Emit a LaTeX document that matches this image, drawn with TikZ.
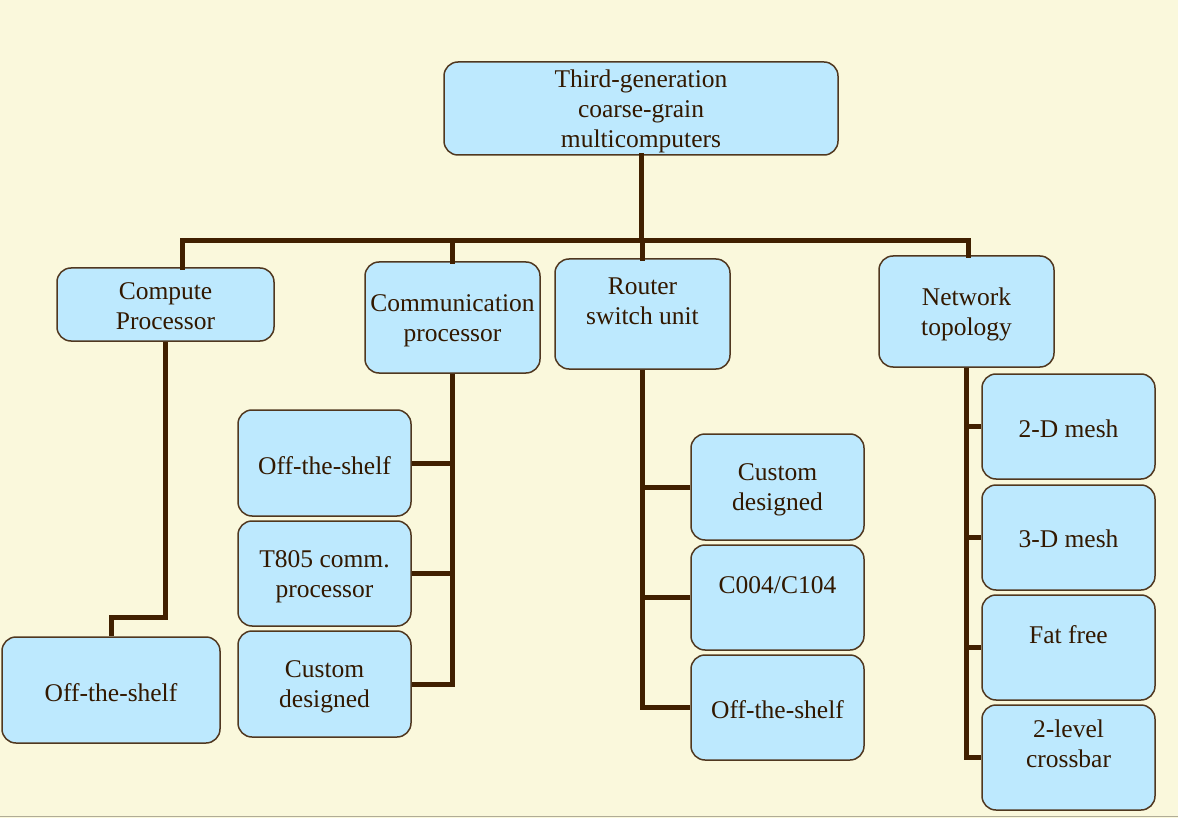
\documentclass[tikz,border=0pt]{standalone}
\usepackage{fontspec}
\setmainfont{Liberation Serif}
\definecolor{bgc}{RGB}{250,248,220}
\definecolor{boxfill}{RGB}{189,233,254}
\definecolor{boxline}{RGB}{80,56,32}
\definecolor{txtc}{RGB}{50,24,0}
\definecolor{connc}{RGB}{64,32,0}
\definecolor{edgec}{RGB}{176,172,150}
\begin{document}
\begin{tikzpicture}[x=1pt,y=-1pt,
  box/.style={draw=boxline,line width=1.5pt,fill=boxfill,rounded corners=14pt,inner sep=0pt},
  txt/.style={inner sep=0pt,align=center,text=txtc,font=\fontsize{25.5}{30}\selectfont},
  conn/.style={draw=connc,line width=5pt,line join=miter,line cap=rect}]
\fill[bgc] (0,0) rectangle (1178,818);
\useasboundingbox (0,0) rectangle (1178,818);
\draw[edgec,line width=1.5pt] (0,816.5) -- (1178,816.5);

\coordinate (b1) at (182,241);
\coordinate (b4) at (968,241);

% boxes
\node[box,minimum width=394pt,minimum height=93pt] (top) at (641,108.5) {};
\node[txt] (topt) at ([yshift=-3pt]top.center) {Third-generation\\coarse-grain\\multicomputers};
\node[box,minimum width=217pt,minimum height=73pt] (cp) at (165.5,304.5) {};
\node[txt] (cpt) at ([yshift=-2pt]cp.center) {Compute\\Processor};
\node[box,minimum width=175pt,minimum height=111pt] (cm) at (452.5,317.5) {};
\node[txt] (cmt) at ([yshift=-3pt]cm.center) {Communication\\processor};
\node[box,minimum width=175pt,minimum height=110pt] (rs) at (642.5,314) {};
\node[txt] (rst) at ([yshift=13pt]rs.center) {Router\\switch unit};
\node[box,minimum width=175pt,minimum height=111pt] (nt) at (966.5,311.5) {};
\node[txt] (ntt) at ([yshift=-3pt]nt.center) {Network\\topology};

\node[box,minimum width=218pt,minimum height=106pt] (os0) at (111,690) {};
\node[txt] (os0t) at ([yshift=-2.5pt]os0.center) {Off-the-shelf};

\node[box,minimum width=173pt,minimum height=106pt] (c1) at (324.5,463) {};
\node[txt] (c1t) at ([yshift=-2.5pt]c1.center) {Off-the-shelf};
\node[box,minimum width=173pt,minimum height=105pt] (c2) at (324.5,573.5) {};
\node[txt] (c2t) at ([yshift=-3pt]c2.center) {T805 comm.\\processor};
\node[box,minimum width=173pt,minimum height=106pt] (c3) at (324.5,684) {};
\node[txt] (c3t) at ([yshift=-3pt]c3.center) {Custom\\designed};

\node[box,minimum width=173pt,minimum height=106pt] (r1) at (777.5,487) {};
\node[txt] (r1t) at ([yshift=-3pt]r1.center) {Custom\\designed};
\node[box,minimum width=173pt,minimum height=105pt] (r2) at (777.5,597.5) {};
\node[txt] (r2t) at ([yshift=12pt]r2.center) {C004/C104};
\node[box,minimum width=173pt,minimum height=105pt] (r3) at (777.5,707.5) {};
\node[txt] (r3t) at ([yshift=-2pt]r3.center) {Off-the-shelf};

\node[box,minimum width=173pt,minimum height=105pt] (n1) at (1068.5,426.5) {};
\node[txt] (n1t) at ([yshift=-2pt]n1.center) {2-D mesh};
\node[box,minimum width=173pt,minimum height=105pt] (n2) at (1068.5,537.5) {};
\node[txt] (n2t) at ([yshift=-1.5pt]n2.center) {3-D mesh};
\node[box,minimum width=173pt,minimum height=105pt] (n3) at (1068.5,647.5) {};
\node[txt] (n3t) at ([yshift=13pt]n3.center) {Fat free};
\node[box,minimum width=173pt,minimum height=105pt] (n4) at (1068.5,757.5) {};
\node[txt] (n4t) at ([yshift=14pt]n4.center) {2-level\\crossbar};

% top level bus
\draw[conn] (top.south) -- (top.south |- b1);
\draw[conn] (cp.north -| b1) -- (b1) -- (b4) -- (nt.north -| b4);
\draw[conn] (cm.north) -- (cm.north |- b1);
\draw[conn] (rs.north) -- (rs.north |- b1);

% compute processor
\draw[conn,line cap=butt] (cp.south) -- ++(0,276) -| (os0.north);

% communication processor
\draw[conn,line cap=butt] (cm.south) -- (cm.south |- c3.east) -- (c3.east);
\draw[conn,line cap=butt] (c1.east) -- (c1.east -| cm.south);
\draw[conn,line cap=butt] (c2.east) -- (c2.east -| cm.south);

% router
\draw[conn,line cap=butt] (rs.south) -- (rs.south |- r3.west) -- (r3.west);
\draw[conn,line cap=butt] (r1.west) -- (r1.west -| rs.south);
\draw[conn,line cap=butt] (r2.west) -- (r2.west -| rs.south);

% network topology
\draw[conn,line cap=butt] (nt.south) -- (nt.south |- n4.west) -- (n4.west);
\draw[conn,line cap=butt] (n1.west) -- (n1.west -| nt.south);
\draw[conn,line cap=butt] (n2.west) -- (n2.west -| nt.south);
\draw[conn,line cap=butt] (n3.west) -- (n3.west -| nt.south);
\end{tikzpicture}
\end{document}
